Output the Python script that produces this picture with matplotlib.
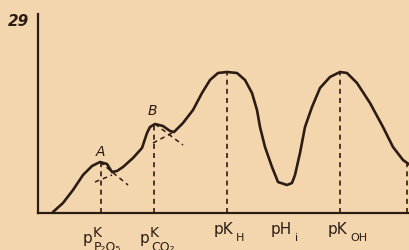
import matplotlib.pyplot as plt

# curve (x along the axis, y height above it)
curve_x = [15, 25, 35, 45, 54, 62, 69, 74, 79, 85, 95, 104, 109, 112, 117, 125, 132, 136,
           145, 155, 164, 172, 180, 189, 199, 207, 214, 219, 222, 227, 234, 240, 249, 254,
           257, 262, 267, 274, 282, 292, 302, 309, 319, 332, 345, 355, 365, 372]
curve_y = [1, 10, 23, 38, 47, 51, 49, 41, 42, 46, 55, 65, 80, 86, 89, 87, 82, 81,
           90, 103, 120, 133, 140, 141, 140, 133, 120, 103, 86, 66, 46, 31, 28, 30,
           38, 60, 86, 106, 125, 136, 141, 140, 130, 110, 86, 66, 53, 48]

# dashed guides
marks_x = [63, 116, 189, 302, 369]
marks_top = [51, 89, 141, 141, 49]
tangents = [([62, 90], [51, 28]), ([57, 74], [31, 38]),
            ([117, 145], [89, 68]), ([115, 134], [70, 80])]

# tick labels: (x of the main part's right edge, main, subscript)
pk_acid = [(54, "P₂O₅"), (111, "CO₂")]
pk_other = [(195, "pK", "H"), (254, "pH", "i"), (309, "pK", "OH")]
peak_names = [("A", 62, 61), ("B", 114, 102)]

bg = "#f4d6ae"
ink = "#2b1d14"

fig = plt.figure(figsize=(4.1, 2.5), dpi=100, facecolor=bg)
ax = fig.add_axes([38 / 410, 37 / 250, 372 / 410, 199 / 250])
ax.set_facecolor(bg)
ax.set_xlim(0, 372)
ax.set_ylim(0, 199)
for s in ["top", "right"]:
    ax.spines[s].set_visible(False)
for s in ["left", "bottom"]:
    ax.spines[s].set_color(ink)
    ax.spines[s].set_linewidth(1.6)
ax.set_xticks([])
ax.set_yticks([])

ax.plot(curve_x, curve_y, color=ink, lw=1.9, solid_joinstyle="round",
        solid_capstyle="round")
for x, top in zip(marks_x, marks_top):
    ax.plot([x, x], [0, top], color=ink, lw=1.2, ls=(0, (3, 2.5)))
for tx, ty in tangents:
    ax.plot(tx, ty, color=ink, lw=1.1, ls=(0, (3, 2.5)))

for name, x, y in peak_names:
    ax.text(x, y, name, color=ink, fontsize=10, style="italic", ha="center", va="center")

for x, sub in pk_acid:
    ax.text(x, -18, "p", color=ink, fontsize=11, ha="right", va="top")
    ax.text(x + 1, -13, "K", color=ink, fontsize=10, ha="left", va="top")
    ax.text(x + 2, -28, sub, color=ink, fontsize=9, ha="left", va="top")
for x, main, sub in pk_other:
    ax.text(x, -9, main, color=ink, fontsize=11, ha="right", va="top")
    ax.text(x + 3, -20, sub, color=ink, fontsize=8, ha="left", va="top")

fig.text(19 / 410, 1 - 21 / 250, "29", color=ink, fontsize=11, weight="bold",
         style="italic", ha="center", va="center")

fig.savefig("out.png", dpi=100, facecolor=bg)
